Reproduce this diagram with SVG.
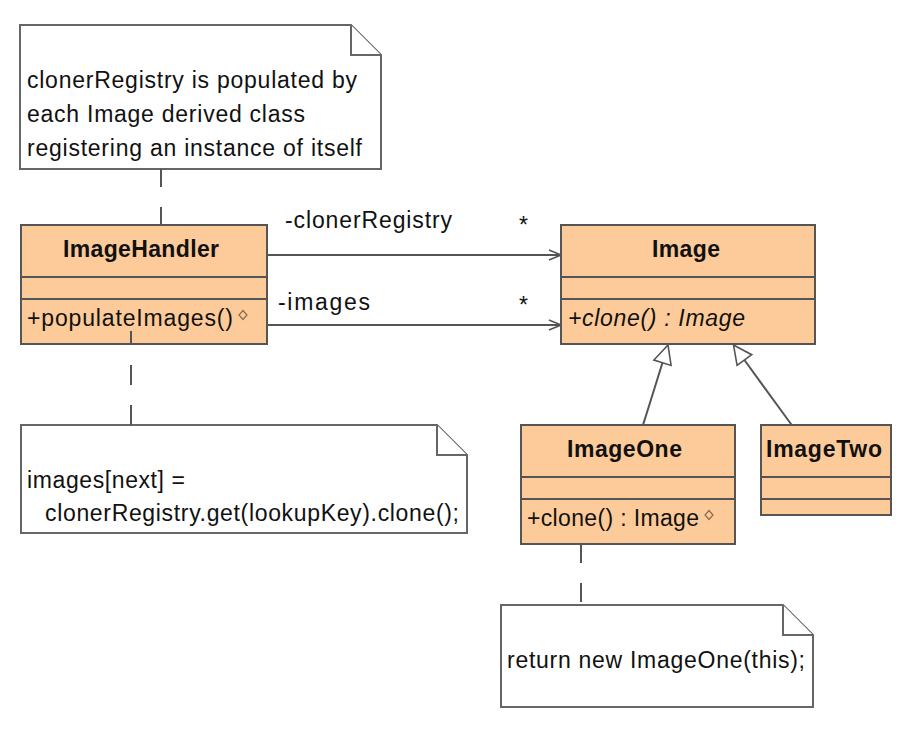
<svg xmlns="http://www.w3.org/2000/svg" width="910" height="750" viewBox="0 0 910 750">
<style>
  .cls{fill:#FDCB99;stroke:#555;stroke-width:2}
  .sep{stroke:#555;stroke-width:2}
  .note{fill:#fff;stroke:#666;stroke-width:2}
  .t{font-family:"Liberation Sans",Arial,sans-serif;font-size:23px;fill:#111}
  .b{font-weight:bold}
  .i{font-style:italic}
  .line{stroke:#555;stroke-width:2;fill:none}
  .dash{stroke:#555;stroke-width:2;fill:none}
  .icon{fill:none;stroke:#8a6a50;stroke-width:1.2}
</style>
<defs>
  <marker id="open" markerWidth="14" markerHeight="12" refX="13" refY="6" orient="auto" markerUnits="userSpaceOnUse">
    <path d="M1,1 L13,6 L1,11" fill="none" stroke="#555" stroke-width="1.6"/>
  </marker>
</defs>
<rect width="910" height="750" fill="#fff"/>

<g id="note1">
  <path class="note" d="M20,25 H351 L381,55 V169 H20 Z"/>
  <path class="note" d="M351,25 V55 H381" fill="none"/>
  <text class="t" x="27" y="88" textLength="330" lengthAdjust="spacing">clonerRegistry is populated by</text>
  <text class="t" x="27" y="122" textLength="278" lengthAdjust="spacing">each Image derived class</text>
  <text class="t" x="27" y="156" textLength="335" lengthAdjust="spacing">registering an instance of itself</text>
</g>

<g id="ImageHandler">
  <rect class="cls" x="21" y="225" width="246" height="119"/>
  <line class="sep" x1="21" y1="277" x2="267" y2="277"/>
  <line class="sep" x1="21" y1="299" x2="267" y2="299"/>
  <text class="t b" x="63" y="257" textLength="156" lengthAdjust="spacing">ImageHandler</text>
  <text class="t" x="27" y="326" textLength="206" lengthAdjust="spacing">+populateImages()</text>
  <polygon class="icon" points="243,310.5 247,315 243,319.5 239,315"/>
</g>

<g id="Image">
  <rect class="cls" x="561" y="225" width="254" height="119"/>
  <line class="sep" x1="561" y1="277" x2="815" y2="277"/>
  <line class="sep" x1="561" y1="299" x2="815" y2="299"/>
  <text class="t b" x="652" y="257" textLength="68" lengthAdjust="spacing">Image</text>
  <text class="t i" x="568" y="326" textLength="177" lengthAdjust="spacing">+clone() : Image</text>
</g>

<g id="ImageOne">
  <rect class="cls" x="521" y="425" width="214" height="119"/>
  <line class="sep" x1="521" y1="477" x2="735" y2="477"/>
  <line class="sep" x1="521" y1="499" x2="735" y2="499"/>
  <text class="t b" x="567" y="457" textLength="115" lengthAdjust="spacing">ImageOne</text>
  <text class="t" x="527" y="526" textLength="172" lengthAdjust="spacing">+clone() : Image</text>
  <polygon class="icon" points="709,510.5 713,515 709,519.5 705,515"/>
</g>

<g id="ImageTwo">
  <rect class="cls" x="761" y="425" width="130" height="90"/>
  <line class="sep" x1="761" y1="477" x2="891" y2="477"/>
  <line class="sep" x1="761" y1="499" x2="891" y2="499"/>
  <text class="t b" x="766" y="457" textLength="116" lengthAdjust="spacing">ImageTwo</text>
</g>

<g id="note2">
  <path class="note" d="M21,425 H437 L467,455 V533 H21 Z"/>
  <path class="note" d="M437,425 V455 H467" fill="none"/>
  <text class="t" x="27" y="488" textLength="158" lengthAdjust="spacing">images[next] =</text>
  <text class="t" x="45" y="521" textLength="414" lengthAdjust="spacing">clonerRegistry.get(lookupKey).clone();</text>
</g>

<g id="note3">
  <path class="note" d="M501,605 H783 L813,635 V707 H501 Z"/>
  <path class="note" d="M783,605 V635 H813" fill="none"/>
  <text class="t" x="507" y="668" textLength="298" lengthAdjust="spacing">return new ImageOne(this);</text>
</g>

<g id="connectors">
  <line class="line" x1="267" y1="255" x2="561" y2="255" marker-end="url(#open)"/>
  <line class="line" x1="267" y1="325" x2="561" y2="325" marker-end="url(#open)"/>
  <line class="line" x1="643" y1="425" x2="662.5" y2="362.7"/>
  <polygon points="668,345 671.1,365.4 653.9,360" fill="#fff" stroke="#555" stroke-width="1.6"/>
  <line class="line" x1="791.7" y1="425" x2="744.4" y2="360"/>
  <polygon points="733.5,345 751.7,354.7 737.1,365.3" fill="#fff" stroke="#555" stroke-width="1.6"/>
  <line class="dash" x1="161" y1="169" x2="161" y2="225" stroke-dasharray="18 20"/>
  <line class="dash" x1="131" y1="425" x2="131" y2="331" stroke-dasharray="20 20"/>
  <line class="dash" x1="581" y1="544" x2="581" y2="605" stroke-dasharray="19 20"/>
  <text class="t" x="285" y="228" textLength="167" lengthAdjust="spacing">-clonerRegistry</text>
  <text class="t" x="519" y="233">*</text>
  <text class="t" x="278" y="310" textLength="92" lengthAdjust="spacing">-images</text>
  <text class="t" x="519" y="313">*</text>
</g>
</svg>
